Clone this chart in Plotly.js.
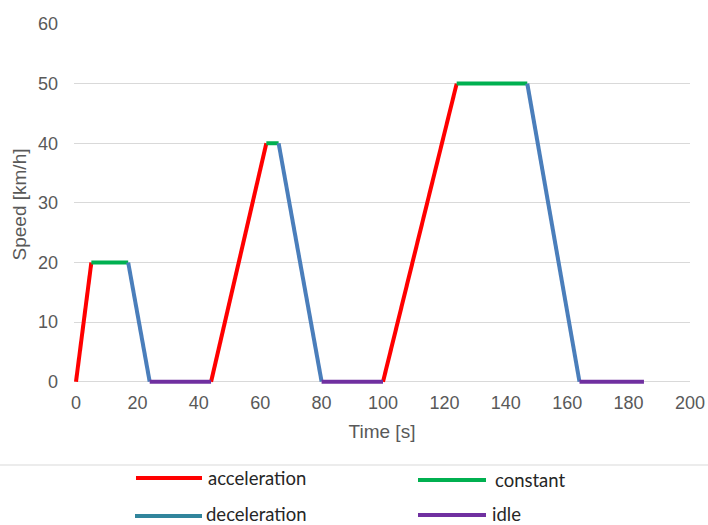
<!DOCTYPE html>
<html>
<head>
<meta charset="utf-8">
<script src="https://cdn.plot.ly/plotly-3.0.1.min.js"></script>
<style>html,body{margin:0;padding:0;background:#fff;}#chart{width:708px;height:525px;}</style>
</head>
<body>
<div id="chart"></div>
<script>
// Data (time in s, speed in km/h); null separates segments of the same phase
const accelerationX = [0, 5, null, 44, 62, null, 100, 124];
const accelerationY = [0, 20, null, 0, 40, null, 0, 50];
const constantX = [5, 17, null, 62, 66, null, 124, 147];
const constantY = [20, 20, null, 40, 40, null, 50, 50];
const decelerationX = [17, 24, null, 66, 80, null, 147, 164];
const decelerationY = [20, 0, null, 40, 0, null, 50, 0];
const idleX = [24, 44, null, 80, 100, null, 164, 185];
const idleY = [0, 0, null, 0, 0, null, 0, 0];

const seriesNames = ["acceleration", "constant", "deceleration", "idle"];
const lineColors = ["#FF0000", "#00B050", "#4A7EBB", "#7030A0"];
const legendColors = ["#FF0000", "#00B050", "#31859C", "#7030A0"];

const xTicks = [0, 20, 40, 60, 80, 100, 120, 140, 160, 180, 200];
const yTicks = [0, 10, 20, 30, 40, 50, 60];

const xs = [accelerationX, constantX, decelerationX, idleX];
const ys = [accelerationY, constantY, decelerationY, idleY];

const traces = seriesNames.map((n, i) => ({
  type: "scatter", mode: "lines", name: n,
  x: xs[i], y: ys[i], connectgaps: false,
  line: {color: lineColors[i], width: 4},
  hoverinfo: "x+y+name"
}));

const W = 708, H = 525;
const M = {l: 74, r: 18, t: 24, b: 140};
const pw = W - M.l - M.r, ph = H - M.t - M.b;
const px = v => (v - M.l) / pw;
const py = v => (H - M.b - v) / ph;

// manual legend (Excel style, 2 columns, under a separator line)
const legendPos = [
  {x0: 136, x1: 202, y: 478, ty: 478, tx: 207},
  {x0: 418, x1: 486, y: 480, ty: 480, tx: 494},
  {x0: 135, x1: 202, y: 516, ty: 514, tx: 205},
  {x0: 418, x1: 486, y: 515, ty: 514, tx: 491}
];
const shapes = [{
  type: "line", xref: "paper", yref: "paper",
  x0: px(0), x1: px(708), y0: py(465), y1: py(465),
  line: {color: "#D9D9D9", width: 1}
}];
const annotations = [];
seriesNames.forEach((n, i) => {
  const p = legendPos[i];
  shapes.push({type: "line", xref: "paper", yref: "paper",
    x0: px(p.x0), x1: px(p.x1), y0: py(p.y), y1: py(p.y),
    line: {color: legendColors[i], width: 4}});
  annotations.push({xref: "paper", yref: "paper", x: px(p.tx), y: py(p.ty),
    xanchor: "left", yanchor: "middle", showarrow: false, text: n,
    borderpad: 0, valign: "middle",
    font: {family: "Lato, 'Open Sans', sans-serif", size: 18.5, color: "#262626"}});
});

const tickFont = {family: "'Liberation Sans', Arial, sans-serif", size: 18, color: "#595959"};
const titleFont = {family: "'Liberation Sans', Arial, sans-serif", size: 19, color: "#595959"};

const layout = {
  width: W, height: H, margin: M,
  paper_bgcolor: "#fff", plot_bgcolor: "#fff",
  showlegend: false,
  font: tickFont,
  xaxis: {
    range: [-0.65, 200], tickvals: xTicks, ticktext: xTicks.map(String),
    showgrid: false, zeroline: false, showline: false, ticks: "",
    tickfont: tickFont, ticklabelstandoff: 5,
    title: {text: "Time [s]", font: titleFont, standoff: 12}
  },
  yaxis: {
    range: [-0.55, 60], tickvals: yTicks, ticktext: yTicks.map(String),
    showgrid: true, gridcolor: "#D9D9D9", gridwidth: 1,
    zeroline: true, zerolinecolor: "#D9D9D9", zerolinewidth: 1,
    showline: false, ticks: "",
    tickfont: tickFont, ticklabelstandoff: 15,
    title: {text: "Speed [km/h]", font: titleFont, standoff: 6}
  },
  shapes: shapes,
  annotations: annotations
};

Plotly.newPlot("chart", traces, layout, {displayModeBar: false});
</script>
</body>
</html>
